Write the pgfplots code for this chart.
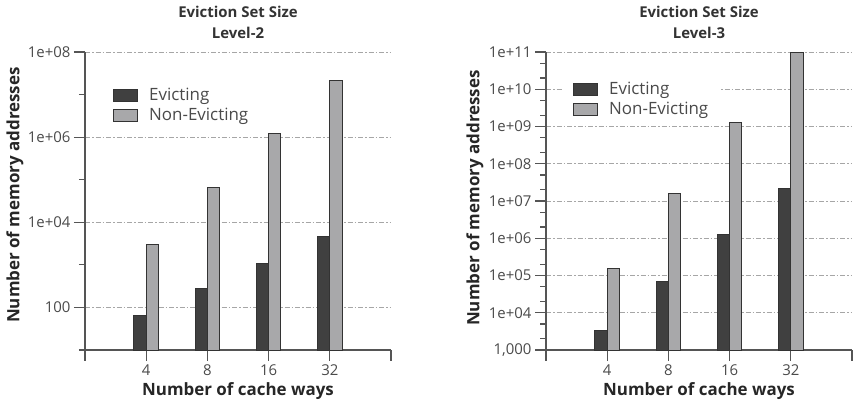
\documentclass[border=0pt]{standalone}
\usepackage{pgfplots}
\pgfplotsset{compat=1.18}
\usepackage{fontspec}
\setmainfont{Open Sans}
\definecolor{evic}{HTML}{404040}
\definecolor{nonevic}{HTML}{A8A8AA}
\definecolor{axgray}{HTML}{555555}
\definecolor{txtgray}{HTML}{4A4A4A}
\pgfplotsset{
  every axis/.append style={
  scale only axis, width=306bp, height=298bp,
  axis x line*=bottom, axis y line*=left,
  axis line style={axgray, line width=1.1bp},
  xmin=-1, xmax=4,
  xtick={-1,0,1,2,3,4}, xticklabels={,4,8,16,32,},
  tick align=outside,
  major tick length=11bp, minor tick length=6bp,
  every tick/.style={axgray, line width=1.1bp},
  ticklabel style={font=\fontsize{15}{18}\selectfont, text=txtgray},
  ymajorgrids, major grid style={gray!70, line width=0.8bp, dash pattern=on 5bp off 2bp on 1.5bp off 2bp},
  bar width=0.2,
  label style={font=\bfseries\fontsize{17}{20}\selectfont, text=black!85},
  xlabel={Number of cache ways},
  ylabel={Number of memory addresses},
  xlabel style={at={(axis description cs:0.5,-0.151)}, anchor=base},
  title style={font=\bfseries\fontsize{15}{21}\selectfont, align=center, at={(axis description cs:0.5,1)}, anchor=south, yshift=7bp, inner sep=0pt, text=black!80},
  legend style={draw=none, fill=white, font=\fontsize{17}{20}\selectfont, text=txtgray, row sep=2.5bp, anchor=north west, inner xsep=11bp, inner ysep=5bp},
  legend cell align=left,
  legend image code/.code={\draw[#1] (0bp,-6bp) rectangle (24bp,6bp); \path (33bp,0bp);},
  },
}
\begin{document}
\begin{tikzpicture}
\useasboundingbox (0,0) rectangle (853bp,-402bp);
\begin{axis}[ymode=log, log origin=infty, at={(85bp,-350bp)}, anchor=south west,
  title={Eviction Set Size\\Level-2},
  ymin=10, ymax=1e8,
  ytick={100,1e4,1e6,1e8}, yticklabels={100,1e+04,1e+06,1e+08},
  minor ytick={10,1000,1e5,1e7},
  ylabel style={at={(axis description cs:-0.229,0.52)}, anchor=center},
  legend style={at={(axis description cs:0.0556,0.903)}},
]
\addplot[ybar, bar shift=-0.1, fill=evic, draw=black!80, line width=1bp] coordinates {(0,66) (1,275) (2,1100) (3,4700)};
\addplot[ybar, bar shift=0.1, fill=nonevic, draw=black!80, line width=1bp] coordinates {(0,2970) (1,64500) (2,1.22e6) (3,2.1e7)};
\legend{Evicting,Non-Evicting}
\end{axis}
\begin{axis}[ymode=log, log origin=infty, at={(546bp,-350bp)}, anchor=south west,
  title={Eviction Set Size\\Level-3},
  ymin=1000, ymax=1e11,
  ytick={1000,1e4,1e5,1e6,1e7,1e8,1e9,1e10,1e11},
  yticklabels={{1,000},1e+04,1e+05,1e+06,1e+07,1e+08,1e+09,1e+10,1e+11},
  minor ytick={2e3,5e3,2e4,5e4,2e5,5e5,2e6,5e6,2e7,5e7,2e8,5e8,2e9,5e9,2e10,5e10},
  ylabel style={at={(axis description cs:-0.232,0.51)}, anchor=center},
  legend style={at={(axis description cs:0.0523,0.923)}},
]
\addplot[ybar, bar shift=-0.1, fill=evic, draw=black!80, line width=1bp] coordinates {(0,3400) (1,67000) (2,1.26e6) (3,2.2e7)};
\addplot[ybar, bar shift=0.1, fill=nonevic, draw=black!80, line width=1bp] coordinates {(0,1.57e5) (1,1.6e7) (2,1.32e9) (3,9.8e10)};
\legend{Evicting,Non-Evicting}
\end{axis}
\end{tikzpicture}
\end{document}
